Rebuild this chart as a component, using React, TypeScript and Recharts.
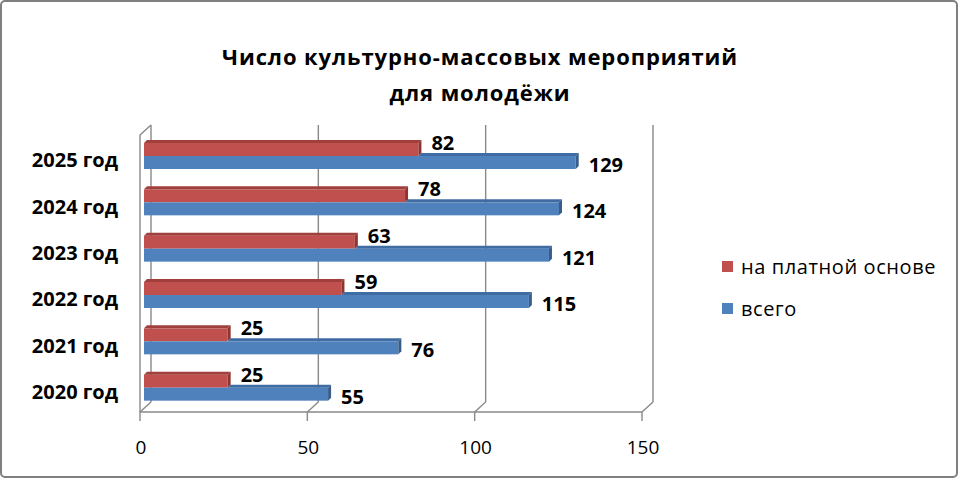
import React from 'react';
import { BarChart, Bar, XAxis, YAxis, CartesianGrid, LabelList, Legend } from 'recharts';

// ---- data ----
const categories = ['2020 год', '2021 год', '2022 год', '2023 год', '2024 год', '2025 год'];
const paidValues = [25, 25, 59, 63, 78, 82];
const totalValues = [55, 76, 115, 121, 124, 129];
const xTicks = [0, 50, 100, 150];
const paidName = 'на платной основе';
const totalName = 'всего';
const legendOrder = ['paid', 'total'];
const titleLines = ['Число культурно-массовых мероприятий', 'для молодёжи'];

const data = categories.map((c, i) => ({ category: c, paid: paidValues[i], total: totalValues[i] }));

// ---- layout ----
const W = 960;
const H = 480;
const FONT = "'Open Sans', 'Noto Sans', sans-serif";
const PLOT_LEFT = 144;
const PLOT_RIGHT = 646;
const PLOT_TOP = 133;
const PLOT_BOTTOM = 411;
const XAXIS_H = 40;
const GRID = '#898989';
const DEPTH = 3;

const RED = '#C0504D';
const RED_TOP = '#A13F3C';
const RED_SIDE = '#8E3532';
const BLUE = '#4F81BD';
const BLUE_TOP = '#3F6CA3';
const BLUE_SIDE = '#385D8A';

const gridLine = (p: any) => {
  const x = p.x1;
  const top = p.y1;
  const bottom = p.y2;
  const bx = x + 7;
  const fx = x - 4;
  const btop = top - 8;
  const bbot = bottom - 9;
  const fbot = bottom + 1;
  const isFirst = Math.abs(x - PLOT_LEFT) < 0.5;
  return (
    <g key={p.key}>
      <line x1={bx} y1={btop} x2={bx} y2={bbot} stroke={GRID} strokeWidth={1.4} />
      <line x1={bx} y1={bbot} x2={fx} y2={fbot} stroke={GRID} strokeWidth={1.4} />
      {isFirst && (
        <g>
          <line x1={fx} y1={btop + 10} x2={fx} y2={fbot} stroke={GRID} strokeWidth={1.4} />
          <line x1={fx} y1={btop + 10} x2={bx} y2={btop} stroke={GRID} strokeWidth={1.4} />
          <line x1={fx} y1={fbot} x2={fx + (PLOT_RIGHT - PLOT_LEFT)} y2={fbot} stroke={GRID} strokeWidth={1.4} />
        </g>
      )}
    </g>
  );
};

const XTick = (p: any) => {
  const { x, y, payload } = p;
  const fx = x - 4;
  return (
    <g>
      <line x1={fx} y1={y + 1} x2={fx} y2={y + 10} stroke={GRID} strokeWidth={1.4} />
      <text x={fx + 1} y={y + 43} textAnchor="middle" fontFamily={FONT} fontSize={19} fill="#000">
        {payload.value}
      </text>
    </g>
  );
};

const YTick = (p: any) => {
  const { x, y, payload } = p;
  return (
    <text x={x} y={y + 11} textAnchor="end" fontFamily={FONT} fontSize={20} fontWeight={700} fill="#000">
      {payload.value}
    </text>
  );
};

const makeShape = (front: string, topc: string, side: string, isTotal: boolean) => (p: any) => {
  const { x, y, width, height, payload } = p;
  if (!width || width <= 0) return <g />;
  const d = DEPTH;
  let topStart = x;
  if (isTotal && payload) {
    const ratio = Math.min(1, payload.paid / payload.total);
    topStart = x + width * ratio;
  }
  return (
    <g>
      <rect x={x} y={y} width={width} height={height} fill={front} />
      {topStart < x + width && (
        <polygon
          points={`${topStart},${y} ${topStart + d},${y - d} ${x + width + d},${y - d} ${x + width},${y}`}
          fill={topc}
        />
      )}
      <polygon
        points={`${x + width},${y} ${x + width + d},${y - d} ${x + width + d},${y + height - d} ${x + width},${y + height}`}
        fill={side}
      />
    </g>
  );
};

const PaidLabel = (p: any) => (
  <text x={p.x + p.width + 13} y={p.y + 7} fontFamily={FONT} fontSize={20} fontWeight={700} fill="#000">
    {p.value}
  </text>
);

const TotalLabel = (p: any) => (
  <text x={p.x + p.width + 13} y={p.y + 16} fontFamily={FONT} fontSize={20} fontWeight={700} fill="#000">
    {p.value}
  </text>
);

const renderLegend = (props: any) => {
  const items = [...(props.payload || [])].sort(
    (a: any, b: any) => legendOrder.indexOf(a.dataKey) - legendOrder.indexOf(b.dataKey)
  );
  return (
    <div style={{ fontFamily: FONT, fontSize: 20, letterSpacing: 0.6, color: '#000' }}>
      {items.map((it: any, i: number) => (
        <div key={i} style={{ display: 'flex', alignItems: 'center', height: 42, whiteSpace: 'nowrap' }}>
          <span style={{ display: 'inline-block', width: 11, height: 11, background: it.color, marginRight: 8 }} />
          <span>{it.value}</span>
        </div>
      ))}
    </div>
  );
};

export default function App() {
  return (
    <div style={{ position: 'absolute', left: 0, top: 0, width: W, height: H, background: '#fff' }}>
      <BarChart
        width={W}
        height={H}
        data={data}
        layout="vertical"
        barSize={13}
        barGap={0}
        margin={{ top: PLOT_TOP, right: W - PLOT_RIGHT, bottom: H - PLOT_BOTTOM - XAXIS_H, left: 0 }}
      >
        <CartesianGrid horizontal={false} vertical={gridLine} />
        <XAxis
          type="number"
          domain={[0, 150]}
          ticks={xTicks}
          height={XAXIS_H}
          axisLine={false}
          tickLine={false}
          tickSize={0}
          tickMargin={0}
          tick={<XTick />}
          interval={0}
        />
        <YAxis
          type="category"
          dataKey="category"
          reversed
          width={PLOT_LEFT}
          axisLine={false}
          tickLine={false}
          tickSize={0}
          tickMargin={26}
          tick={<YTick />}
          interval={0}
        />
        <Legend
          layout="vertical"
          align="center"
          verticalAlign="middle"
          content={renderLegend}
          wrapperStyle={{ left: 722, top: 245, width: 235 }}
        />
        <Bar dataKey="paid" name={paidName} fill={RED} isAnimationActive={false} shape={makeShape(RED, RED_TOP, RED_SIDE, false)}>
          <LabelList dataKey="paid" content={<PaidLabel />} />
        </Bar>
        <Bar dataKey="total" name={totalName} fill={BLUE} isAnimationActive={false} shape={makeShape(BLUE, BLUE_TOP, BLUE_SIDE, true)}>
          <LabelList dataKey="total" content={<TotalLabel />} />
        </Bar>
      </BarChart>
      <svg width={W} height={H} style={{ position: 'absolute', left: 0, top: 0, pointerEvents: 'none' }}>
        <rect x={1} y={1} width={956} height={476} rx={4} fill="none" stroke="#7f7f7f" strokeWidth={2} />
        <text x={480} y={65} textAnchor="middle" fontFamily={FONT} fontSize={22} fontWeight={700} letterSpacing={0.9} fill="#000">
          {titleLines[0]}
        </text>
        <text x={480} y={101} textAnchor="middle" fontFamily={FONT} fontSize={22} fontWeight={700} letterSpacing={0.9} fill="#000">
          {titleLines[1]}
        </text>
      </svg>
    </div>
  );
}
